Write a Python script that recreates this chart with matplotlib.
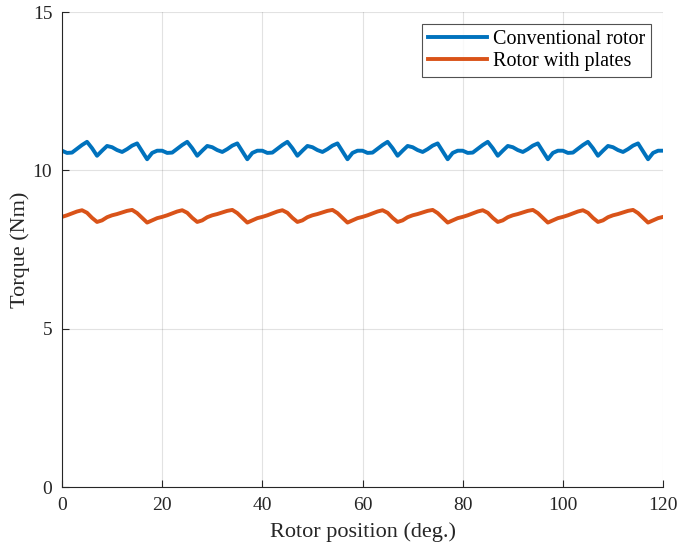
import numpy as np
import matplotlib
matplotlib.use('Agg')
import matplotlib.pyplot as plt

plt.rcParams['font.family'] = ['Liberation Serif', 'DejaVu Serif']
plt.rcParams['mathtext.fontset'] = 'stix'

# rotor position in degrees, 1 deg steps
position = np.arange(0, 121, 1)

# one 20 deg stretch, the trace repeats it over 0-120
conv_period = [10.62, 10.55, 10.56, 10.68, 10.80, 10.90, 10.70, 10.46, 10.62, 10.77,
               10.73, 10.64, 10.58, 10.67, 10.78, 10.85, 10.60, 10.35, 10.55, 10.62]
plates_period = [8.53, 8.58, 8.64, 8.70, 8.74, 8.66, 8.50, 8.37, 8.42, 8.52,
                 8.58, 8.62, 8.67, 8.72, 8.75, 8.65, 8.50, 8.35, 8.42, 8.49]

conventional = conv_period * 6 + [conv_period[0]]
plates = plates_period * 6 + [plates_period[0]]

fig = plt.figure(figsize=(6.78, 5.48), dpi=100)
ax = fig.add_axes([0.0914, 0.1113, 0.8866, 0.8668])

ax.plot(position, conventional, color='#0072BD', linewidth=2.8, label='Conventional rotor')
ax.plot(position, plates, color='#D95319', linewidth=2.8, label='Rotor with plates')

ax.set_xlim(0, 120)
ax.set_ylim(0, 15)
ax.set_xticks(np.arange(0, 121, 20))
ax.set_yticks([0, 5, 10, 15])
ax.grid(True, color='#262626', alpha=0.13, linewidth=0.8)
ax.set_axisbelow(True)

for side in ['top', 'right']:
    ax.spines[side].set_visible(False)
for side in ['left', 'bottom']:
    ax.spines[side].set_linewidth(0.8)
    ax.spines[side].set_color('#262626')

ax.tick_params(direction='in', length=5, width=0.8, labelsize=14, colors='#262626',
               pad=7)
ax.set_xlabel('Rotor position (deg.)', fontsize=16, color='#262626', labelpad=6)
ax.set_ylabel('Torque (Nm)', fontsize=16, color='#262626', labelpad=2)

leg = ax.legend(loc='upper right', fontsize=14.5, frameon=True, fancybox=False,
                handlelength=2.9, handletextpad=0.3, borderpad=0.3,
                labelspacing=0.15, borderaxespad=0.6)
leg.get_frame().set_edgecolor('#262626')
leg.get_frame().set_linewidth(0.8)

fig.savefig('out.png', dpi=100)
